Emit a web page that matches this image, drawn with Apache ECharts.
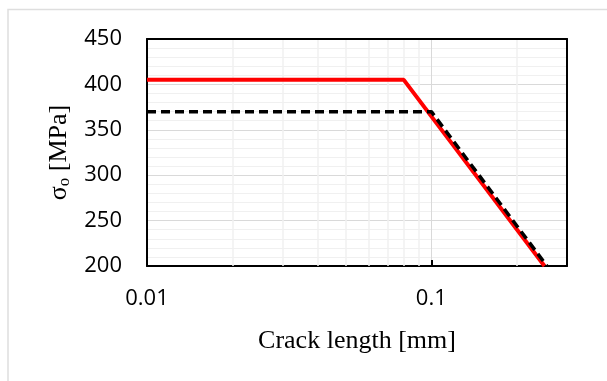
<!DOCTYPE html>
<html>
<head>
<meta charset="utf-8">
<script src="https://cdn.jsdelivr.net/npm/echarts@6/dist/echarts.min.js"></script>
<style>
html,body{margin:0;padding:0;background:#fff;}
#main{width:607px;height:381px;}
</style>
</head>
<body>
<div id="main"></div>
<script>
// ---- data ----
var redX = [0.01, 0.08, 0.25];
var redY = [405, 405, 200];
var blackX = [0.01, 0.1, 0.255];
var blackY = [370, 370, 200];
var xTickValues = [0.01, 0.1];
var xTickLabels = ['0.01', '0.1'];
var yTickLabels = ['200', '250', '300', '350', '400', '450'];
var minorGridX = [0.02, 0.03, 0.04, 0.05, 0.06, 0.07, 0.08, 0.09, 0.2];

function pairs(xs, ys) { return xs.map(function (x, i) { return [x, ys[i]]; }); }

var frameLine = { show: true, onZero: false, lineStyle: { color: '#000', width: 2 } };

var chart = echarts.init(document.getElementById('main'));
chart.setOption({
  animation: false,
  backgroundColor: '#fff',
  graphic: [{
    type: 'rect', z: -10, silent: true,
    shape: { x: 8, y: 9.5, width: 640, height: 400 },
    style: { fill: 'none', stroke: '#dedede', lineWidth: 1.5 }
  }],
  grid: { left: 147, right: 40, top: 39, bottom: 115 },
  xAxis: [{
    type: 'log', logBase: 10, min: 0.01, max: 0.3, position: 'bottom',
    name: 'Crack length [mm]', nameLocation: 'middle', nameGap: 62,
    nameTextStyle: { fontFamily: 'Liberation Serif', fontSize: 26, color: '#000' },
    axisLine: frameLine,
    axisTick: { show: true, inside: true, length: 6, lineStyle: { color: '#000', width: 2 } },
    axisLabel: {
      fontFamily: 'Open Sans', fontSize: 22, color: '#000', margin: 22,
      showMaxLabel: false,
      formatter: function (v) {
        for (var i = 0; i < xTickValues.length; i++) {
          if (Math.abs(v - xTickValues[i]) < 1e-9) return xTickLabels[i];
        }
        return '';
      }
    },
    splitLine: { show: true, lineStyle: { color: '#d9d9d9', width: 1, type: 'solid' } },
    minorTick: { show: false },
    minorSplitLine: { show: false }
  }, {
    type: 'log', logBase: 10, min: 0.01, max: 0.3, position: 'top',
    axisLine: frameLine, axisTick: { show: false }, axisLabel: { show: false },
    splitLine: { show: false }, z: 5
  }],
  yAxis: [{
    type: 'value', min: 200, max: 450, interval: 50, position: 'left',
    name: '{s|σ}{sub|o}{s| [MPa]}', nameLocation: 'middle', nameGap: 72, nameRotate: 90,
    nameTextStyle: {
      rich: {
        s: { fontFamily: 'Liberation Serif', fontSize: 26, color: '#000' },
        sub: { fontFamily: 'Liberation Serif', fontSize: 17, color: '#000', verticalAlign: 'bottom', padding: [12, 0, 0, 0] }
      }
    },
    axisLine: frameLine,
    axisTick: { show: false },
    axisLabel: {
      fontFamily: 'Open Sans', fontSize: 22, color: '#000', margin: 25,
      formatter: function (v) {
        var s = String(v);
        return yTickLabels.indexOf(s) >= 0 ? s : '';
      }
    },
    splitLine: { show: true, lineStyle: { color: '#d9d9d9', width: 1, type: 'solid' } },
    minorTick: { show: false, splitNumber: 5 },
    minorSplitLine: { show: true, lineStyle: { color: '#f0f0f0', width: 1, type: 'solid' } }
  }, {
    type: 'value', min: 200, max: 450, interval: 50, position: 'right',
    axisLine: frameLine, axisTick: { show: false }, axisLabel: { show: false },
    splitLine: { show: false }, z: 5
  }],
  series: [
    {
      type: 'line', data: [], z: 1, silent: true,
      markLine: {
        z: 1, silent: true, symbol: ['none', 'none'], label: { show: false },
        lineStyle: { color: '#f0f0f0', width: 1.5, type: 'solid' },
        emphasis: { disabled: true },
        data: minorGridX.map(function (v) {
          return { xAxis: v, lineStyle: { color: '#f0f0f0', width: 1.5, type: 'solid' } };
        })
      }
    },
    {
      type: 'line', data: pairs(redX, redY), showSymbol: false, symbol: 'none',
      lineStyle: { color: '#ff0000', width: 4 }, z: 3
    },
    {
      type: 'line', data: pairs(blackX, blackY), showSymbol: false, symbol: 'none',
      lineStyle: { color: '#000', width: 3.5, type: [9, 5] }, z: 4
    }
  ]
});
</script>
</body>
</html>
